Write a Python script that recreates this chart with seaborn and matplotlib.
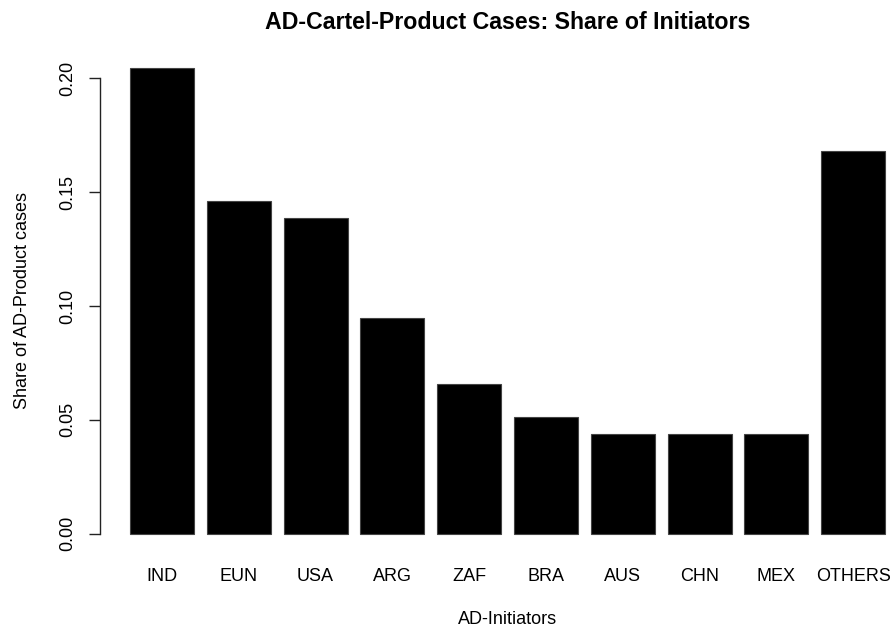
import matplotlib
matplotlib.use("Agg")
import matplotlib.pyplot as plt
import seaborn as sns

categories = ["IND", "EUN", "USA", "ARG", "ZAF", "BRA", "AUS", "CHN", "MEX", "OTHERS"]
shares = [0.2044, 0.1460, 0.1387, 0.0949, 0.0657, 0.0511, 0.0438, 0.0438, 0.0438, 0.1679]
yticks = [0.00, 0.05, 0.10, 0.15, 0.20]
ytick_labels = ["0.00", "0.05", "0.10", "0.15", "0.20"]

sns.set_style("white")
plt.rcParams["font.family"] = ["Liberation Sans", "DejaVu Sans"]
plt.rcParams["text.color"] = "black"
plt.rcParams["axes.labelcolor"] = "black"
plt.rcParams["xtick.color"] = "black"
plt.rcParams["ytick.color"] = "black"

fig = plt.figure(figsize=(8.95, 6.3), dpi=100)
ax = fig.add_axes([99.8 / 895, (630 - 552.3) / 630, 815.6 / 895, (552.3 - 49.6) / 630])

sns.barplot(x=categories, y=shares, color="black", saturation=1, width=1 / 1.2,
            edgecolor="#444444", linewidth=0.8, ax=ax)

ymax = max(shares)
ax.set_ylim(-0.04 * ymax, 1.04 * ymax)
ax.set_xlim(-0.81, 9.81)

for s in ["top", "right", "bottom"]:
    ax.spines[s].set_visible(False)
ax.spines["left"].set_bounds(0, 0.20)
ax.spines["left"].set_color("#222222")
ax.spines["left"].set_linewidth(1.0)

ax.set_yticks(yticks)
ax.set_yticklabels(ytick_labels, rotation=90, va="center", fontsize=13)
ax.tick_params(axis="y", direction="out", length=8, width=1.0, color="#222222", pad=9, left=True)
ax.tick_params(axis="x", length=0, pad=11, labelsize=13)

ax.set_xlabel("AD-Initiators", fontsize=13, labelpad=19)
ax.set_ylabel("Share of AD-Product cases", fontsize=13, labelpad=20)
ax.set_title("AD-Cartel-Product Cases: Share of Initiators", fontsize=16.7, fontweight="bold", pad=15)

fig.savefig("out.png", dpi=100)
